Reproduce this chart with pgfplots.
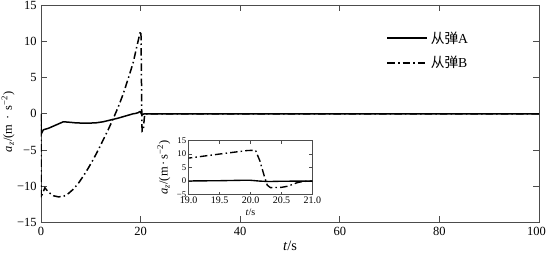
\documentclass[border=0pt]{standalone}
\usepackage{fontspec}
\setmainfont{Liberation Serif}
\newfontfamily\cjk{Noto Sans CJK SC}
\usepackage{pgfplots}
\usepackage{pgfplotstable}
\pgfplotsset{compat=1.18}

\pgfplotstableread{
t v
0 0
0.05 -2.8
0.5 -2.2
1.5 -2.0
2.5 -1.7
3.5 -1.4
4.5 -1.1
5.5 -1.15
7 -1.25
9 -1.3
11 -1.25
12.5 -1.1
14 -0.85
15.5 -0.6
17 -0.3
18.5 0.0
19.0 0.05
19.5 0.15
19.85 0.3
20.0 0.3
20.15 0.0
20.3 -0.15
20.5 -0.05
20.8 0
100 0
}\dataA

\pgfplotstableread{
t v
0 0
0.05 -11.6
0.3 -11.0
0.8 -10.2
1.5 -10.8
2.5 -11.3
3.5 -11.45
4.5 -11.4
5.5 -11.0
6.5 -10.4
7.5 -9.6
8.5 -8.6
9.5 -7.5
10.5 -6.3
11.5 -5.0
12.5 -3.6
13.5 -2.2
14.5 -0.7
15.5 0.9
16.5 2.7
17.5 4.8
18.5 7.0
19.0 8.5
19.5 10.0
19.95 11.3
20.08 11.4
20.15 7.5
20.22 2.0
20.27 -1.5
20.32 -2.4
20.5 -2.3
20.6 -1.9
20.75 -0.6
20.85 -0.1
21 0
100 0
}\dataB

\tikzset{dashdotB/.style={dash pattern=on 6pt off 2.5pt on 1.2pt off 2.5pt}}
\definecolor{axgray}{rgb}{0.3,0.3,0.3}

\begin{document}
\begin{tikzpicture}
\useasboundingbox (-32.8pt,-31.2pt) rectangle (405.6pt,178.4pt);
\begin{axis}[
  at={(0pt,0pt)}, anchor=south west,
  scale only axis, width=399.2pt, height=174.4pt,
  xmin=0, xmax=100, ymin=-15, ymax=15,
  axis line style={axgray, line width=0.5pt},
  every tick/.style={axgray, line width=0.5pt},
  xtick={0,20,40,60,80,100},
  xticklabels={0,20,40,60,80,{\hspace*{-4pt}100}},
  ytick={-15,-10,-5,0,5,10,15},
  yticklabels={−15,−10,−5,0,5,10,15},
  tick align=inside,
  major tick length=5pt,
  tick label style={font=\fontsize{10}{12}\selectfont},
  xlabel={\textit{t}/s},
  ylabel={\textit{a}\textsubscript{\textit{z}}/(m\hspace{4pt}·\hspace{4pt}s\textsuperscript{−2})},
  label style={font=\fontsize{11.5}{13}\selectfont},
  xlabel style={yshift=2pt},
  every axis y label/.style={at={(axis description cs:-0.066,0.463)}, rotate=90, anchor=center},
  legend style={at={(rel axis cs:0.686,0.902)}, anchor=north west, draw=none, fill=none,
    row sep=5pt, font=\fontsize{11}{13}\selectfont, cells={anchor=west}},
  legend image code/.code={\draw[#1, black, line width=1.4pt] (0pt,0pt) -- (32pt,0pt);},
]
\addplot[black, line width=1.2pt] table[x=t,y=v] {\dataA};
\addlegendentry{{\cjk 从弹}A}
\addplot[black, line width=1.2pt, dashdotB] table[x=t,y=v] {\dataB};
\addlegendentry{{\cjk 从弹}B}
\end{axis}

\begin{axis}[
  at={(118.4pt,22.4pt)}, anchor=south west,
  scale only axis, width=99.2pt, height=43.4pt,
  axis background/.style={fill=white},
  axis line style={axgray, line width=0.5pt},
  every tick/.style={axgray, line width=0.5pt},
  xmin=19, xmax=21, ymin=-5, ymax=15,
  xtick={19,19.5,20,20.5,21},
  xticklabels={19.0,19.5,20.0,20.5,21.0},
  ytick={-5,0,5,10,15},
  yticklabels={−5,0,5,10,15},
  tick align=inside,
  major tick length=2.5pt,
  xticklabel style={font=\fontsize{8}{9}\selectfont, yshift=1.5pt},
  yticklabel style={font=\fontsize{7}{8}\selectfont, xshift=1.5pt},
  xlabel={\textit{t}/s},
  ylabel={\textit{a}\textsubscript{\textit{z}}/(m\hspace{1.5pt}·\hspace{1.5pt}s\textsuperscript{−2})},
  label style={font=\fontsize{8}{9}\selectfont},
  xlabel style={yshift=3pt},
  every axis y label/.style={at={(axis description cs:-0.20,0.5)}, rotate=90, anchor=center},
  clip=true,
]
\addplot[black, line width=1.1pt] table[x=t,y=v] {\dataA};
\addplot[black, line width=1.1pt, dashdotB] table[x=t,y=v] {\dataB};
\end{axis}
\end{tikzpicture}
\end{document}
